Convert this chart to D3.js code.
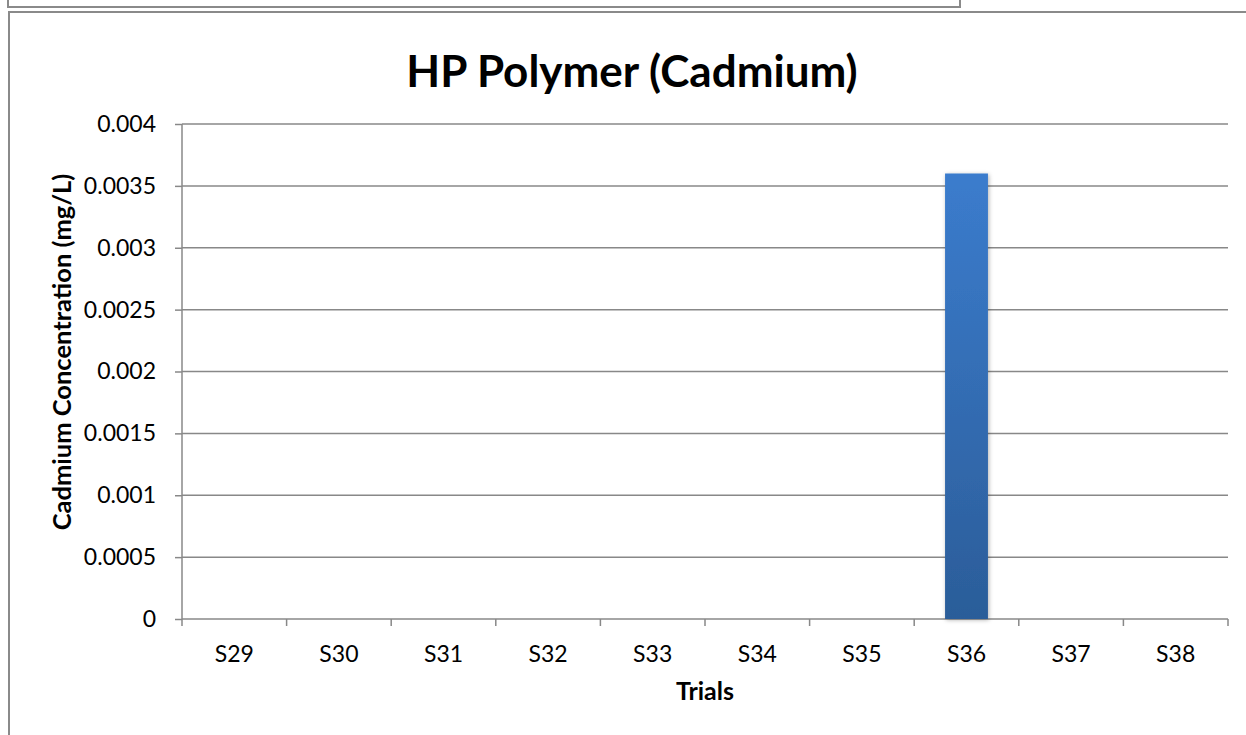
<!DOCTYPE html>
<html>
<head>
<meta charset="utf-8">
<script src="https://cdn.jsdelivr.net/npm/d3@7"></script>
<style>
  body { margin: 0; background: #fff; }
  svg { display: block; font-family: Lato, "Open Sans", sans-serif; }
</style>
</head>
<body>
<div id="chart"></div>
<script>
// chart data
var trials = ["S29", "S30", "S31", "S32", "S33", "S34", "S35", "S36", "S37", "S38"];
var cadmium = [0, 0, 0, 0, 0, 0, 0, 0.0036, 0, 0];
var yTicks = [0, 0.0005, 0.001, 0.0015, 0.002, 0.0025, 0.003, 0.0035, 0.004];

let svgWidth = 1246;
let svgHeight = 735;
let font = "Lato, 'Open Sans', sans-serif";

let svg = d3.select("#chart")
  .append("svg")
  .attr("width", svgWidth)
  .attr("height", svgHeight);

// frames left over from the page layout
svg.append("path")
  .attr("d", "M8,0 V7 H960 V0")
  .attr("fill", "none")
  .attr("stroke", "#8a8a8a")
  .attr("stroke-width", 2);

svg.append("path")
  .attr("d", "M9,735 V12 H1246")
  .attr("fill", "none")
  .attr("stroke", "#8a8a8a")
  .attr("stroke-width", 2);

// plot area
let plotLeft = 182, plotRight = 1228, plotTop = 124, plotBottom = 619;

let xscale = d3.scaleBand()
  .domain(trials)
  .range([plotLeft, plotRight])
  .paddingInner(0.59)
  .paddingOuter(0.295);

let yscale = d3.scaleLinear()
  .domain([0, 0.004])
  .range([plotBottom, plotTop]);

// gradient for the bar
let defs = svg.append("defs");
let grad = defs.append("linearGradient")
  .attr("id", "barGrad")
  .attr("x1", 0).attr("y1", 0).attr("x2", 0).attr("y2", 1);
grad.append("stop").attr("offset", "0%").attr("stop-color", "#3b7ccd");
grad.append("stop").attr("offset", "100%").attr("stop-color", "#2b5d99");

let shadow = defs.append("filter")
  .attr("id", "shadow")
  .attr("x", "-30%").attr("y", "-10%")
  .attr("width", "160%").attr("height", "120%");
shadow.append("feDropShadow")
  .attr("dx", 1).attr("dy", 1)
  .attr("stdDeviation", 2)
  .attr("flood-color", "#000")
  .attr("flood-opacity", 0.3);

// gridlines
svg.append("g")
  .selectAll("line")
  .data(yTicks.slice(1))
  .enter()
  .append("line")
  .attr("x1", plotLeft)
  .attr("x2", plotRight)
  .attr("y1", d => yscale(d))
  .attr("y2", d => yscale(d))
  .attr("stroke", "#888")
  .attr("stroke-width", 1.5);

// y axis
let y_axis = d3.axisLeft(yscale)
  .tickValues(yTicks)
  .tickFormat(d => d === 0 ? "0" : String(+d.toFixed(4)))
  .tickSize(7)
  .tickPadding(19);

let yg = svg.append("g")
  .attr("transform", "translate(" + plotLeft + ",0)")
  .call(y_axis);
yg.select(".domain").attr("stroke", "#888").attr("stroke-width", 1.5).attr("d", "M0," + plotTop + "V" + plotBottom);
yg.selectAll(".tick line").attr("stroke", "#888").attr("stroke-width", 1.5);
yg.selectAll(".tick text")
  .attr("font-size", 23)
  .attr("fill", "#000")
  .attr("font-family", font);

// x axis
let x_axis = d3.axisBottom(xscale)
  .tickSize(0)
  .tickPadding(27);

let xg = svg.append("g")
  .attr("transform", "translate(0," + plotBottom + ")")
  .call(x_axis);
xg.select(".domain").attr("stroke", "#888").attr("stroke-width", 1.5).attr("d", "M" + plotLeft + ",0H" + plotRight);
xg.selectAll(".tick text")
  .attr("font-size", 23)
  .attr("fill", "#000")
  .attr("font-family", font);

// category boundary ticks
let step = xscale.step();
svg.append("g")
  .selectAll("line")
  .data(d3.range(trials.length + 1))
  .enter()
  .append("line")
  .attr("x1", i => plotLeft + i * step)
  .attr("x2", i => plotLeft + i * step)
  .attr("y1", plotBottom)
  .attr("y2", plotBottom + 7)
  .attr("stroke", "#888")
  .attr("stroke-width", 1.5);

// bars
svg.append("g")
  .selectAll("rect")
  .data(trials.map((t, i) => ({ trial: t, value: cadmium[i] })).filter(d => d.value > 0))
  .enter()
  .append("rect")
  .attr("x", d => xscale(d.trial))
  .attr("y", d => yscale(d.value))
  .attr("width", xscale.bandwidth())
  .attr("height", d => plotBottom - yscale(d.value))
  .attr("fill", "url(#barGrad)")
  .attr("filter", "url(#shadow)");

// titles
svg.append("text")
  .attr("x", 632)
  .attr("y", 87)
  .attr("text-anchor", "middle")
  .attr("font-size", 44)
  .attr("font-weight", "bold")
  .text("HP Polymer (Cadmium)");

svg.append("text")
  .attr("x", 705)
  .attr("y", 700)
  .attr("text-anchor", "middle")
  .attr("font-size", 25)
  .attr("font-weight", "bold")
  .text("Trials");

svg.append("text")
  .attr("transform", "translate(71,352) rotate(-90)")
  .attr("text-anchor", "middle")
  .attr("font-size", 25.5)
  .attr("font-weight", "bold")
  .text("Cadmium Concentration (mg/L)");
</script>
</body>
</html>
